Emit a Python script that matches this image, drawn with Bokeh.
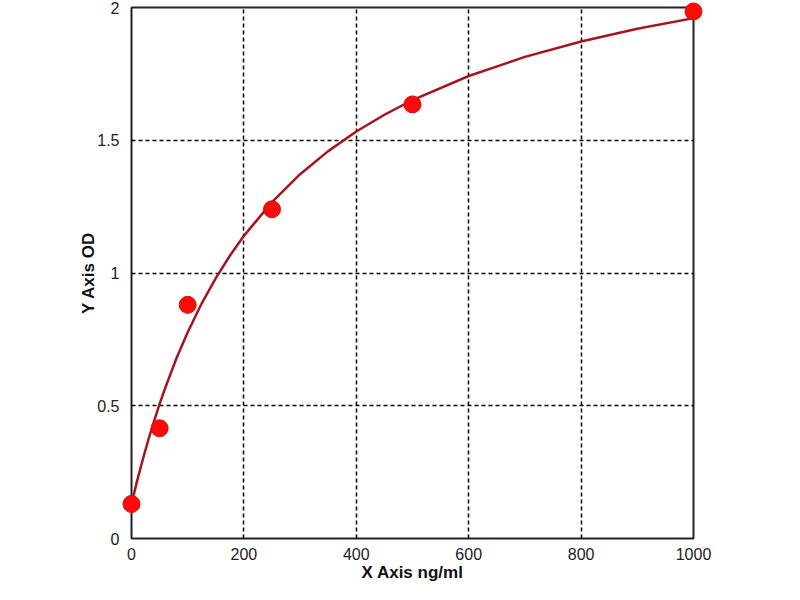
from bokeh.plotting import figure
from bokeh.models import Range1d, FixedTicker
from bokeh.embed import file_html
from bokeh.resources import INLINE

# measured standard points
conc = [0, 50, 100, 250, 500, 1000]
od = [0.13, 0.415, 0.88, 1.24, 1.635, 1.985]

# fitted curve
curve_x = [0, 10, 20, 30, 40, 50, 60, 80, 100, 125, 150, 175, 200, 250, 300,
           350, 400, 450, 500, 600, 700, 800, 900, 1000]
curve_y = [0.13, 0.217, 0.297, 0.372, 0.441, 0.507, 0.567, 0.679, 0.777, 0.886,
           0.981, 1.065, 1.140, 1.267, 1.372, 1.459, 1.533, 1.596, 1.651, 1.742,
           1.814, 1.872, 1.920, 1.960]

x_ticks = [0, 200, 400, 600, 800, 1000]
y_ticks = [0, 0.5, 1, 1.5, 2]
y_tick_labels = ["0", "0.5", "1", "1.5", "2"]

p = figure(width=784, height=584, output_backend="svg", toolbar_location=None,
           x_range=Range1d(0, 1000), y_range=Range1d(0, 2),
           min_border_left=131, min_border_right=91,
           min_border_top=7, min_border_bottom=42)
p.background_fill_color = "white"
p.border_fill_color = "white"
p.outline_line_color = "#222222"
p.outline_line_width = 2

font = "Liberation Sans"
for ax in (p.xaxis, p.yaxis):
    ax.axis_line_color = None
    ax.major_tick_line_color = None
    ax.minor_tick_line_color = None
    ax.major_label_text_font = font
    ax.major_label_text_font_size = "16px"
    ax.major_label_text_color = "#222222"
    ax.axis_label_text_font = font
    ax.axis_label_text_font_size = "17px"
    ax.axis_label_text_font_style = "bold"
    ax.axis_label_text_color = "#111111"

p.xaxis.ticker = FixedTicker(ticks=x_ticks)
p.yaxis.ticker = FixedTicker(ticks=y_ticks)
p.yaxis.major_label_overrides = {float(t): s for t, s in zip(y_ticks, y_tick_labels)}
p.xaxis.major_label_standoff = 3
p.yaxis.major_label_standoff = 6
p.xaxis.axis_label = "X Axis ng/ml"
p.yaxis.axis_label = "Y Axis OD"
p.xaxis.axis_label_standoff = 0
p.yaxis.axis_label_standoff = -4

for g in (p.xgrid, p.ygrid):
    g.grid_line_color = "black"
    g.grid_line_width = 1.5
    g.grid_line_dash = "4 3"
p.xgrid.ticker = FixedTicker(ticks=x_ticks)
p.ygrid.ticker = FixedTicker(ticks=y_ticks)

p.line(curve_x, curve_y, line_color="#a8141e", line_width=2.5)
r = p.scatter(conc, od, size=17, fill_color="#ff0a0a", line_color="#d01010", line_width=1)
r.level = "overlay"

open("out.html", "w").write(file_html(p, INLINE))
